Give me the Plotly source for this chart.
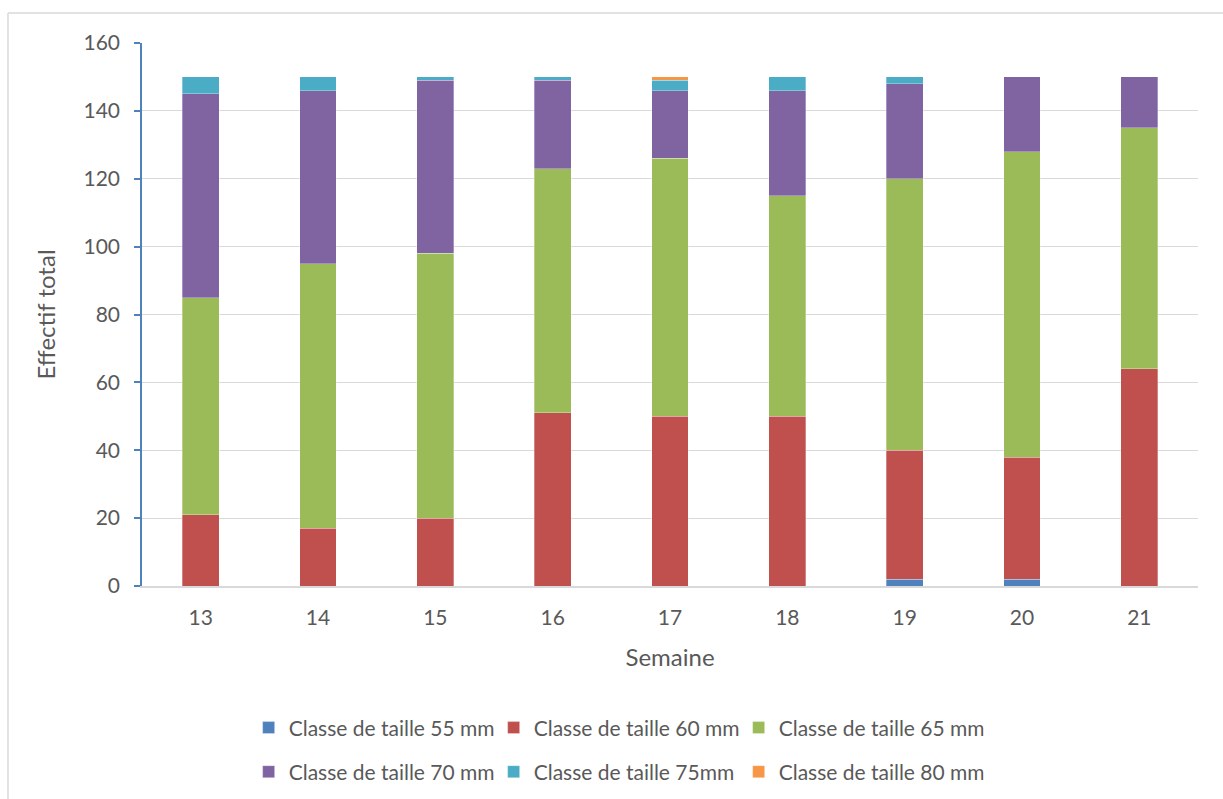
import plotly.graph_objects as go

# Weekly catch counts per size class
semaines = ["13", "14", "15", "16", "17", "18", "19", "20", "21"]
classe_55 = [0, 0, 0, 0, 0, 0, 2, 2, 0]
classe_60 = [21, 17, 20, 51, 50, 50, 38, 36, 64]
classe_65 = [64, 78, 78, 72, 76, 65, 80, 90, 71]
classe_70 = [60, 51, 51, 26, 20, 31, 28, 22, 15]
classe_75 = [5, 4, 1, 1, 3, 4, 2, 0, 0]
classe_80 = [0, 0, 0, 0, 1, 0, 0, 0, 0]

series = [
    ("Classe de taille 55 mm", classe_55, "#4F81BD", "legend"),
    ("Classe de taille 60 mm", classe_60, "#C0504D", "legend"),
    ("Classe de taille 65 mm", classe_65, "#9BBB59", "legend"),
    ("Classe de taille 70 mm", classe_70, "#8064A2", "legend2"),
    ("Classe de taille 75mm", classe_75, "#4BACC6", "legend2"),
    ("Classe de taille 80 mm", classe_80, "#F79646", "legend2"),
]

FONT = "Lato, 'Open Sans', sans-serif"
GREY = "#595959"

fig = go.Figure()
for name, vals, color, lg in series:
    fig.add_trace(go.Bar(
        x=semaines, y=vals, name=name, legend=lg,
        marker=dict(color=color, line=dict(width=0.6, color="rgba(255,255,255,0.5)")),
    ))

legend_common = dict(
    orientation="h", xanchor="center", x=0.449, yanchor="middle", yref="container",
    font=dict(family=FONT, size=21, color=GREY),
    entrywidth=200, entrywidthmode="pixels",
    itemwidth=30, bgcolor="rgba(0,0,0,0)", traceorder="normal",
)

fig.update_layout(
    width=1223, height=799,
    margin=dict(l=142, r=25, t=43, b=213),
    paper_bgcolor="white", plot_bgcolor="white",
    barmode="stack", bargap=0.685,
    font=dict(family=FONT, size=21, color=GREY),
    legend=dict(y=0.0889, **legend_common),
    legend2=dict(y=0.0338, **legend_common),
    xaxis=dict(
        type="category",
        title=dict(text="Semaine", font=dict(size=24, color=GREY), standoff=21),
        showline=True, linecolor="#D9D9D9", linewidth=1.5,
        ticks="", tickfont=dict(size=21, color=GREY), ticklabelstandoff=12,
        showgrid=False,
    ),
    yaxis=dict(
        range=[0, 160], dtick=20,
        title=dict(text="Effectif total", font=dict(size=24, color=GREY), standoff=21),
        showline=True, linecolor="#4F81BD", linewidth=1.5,
        ticks="outside", ticklen=6, tickcolor="#4F81BD", tickwidth=1.5,
        tickfont=dict(size=21, color=GREY), ticklabelstandoff=10,
        showgrid=True, gridcolor="#D9D9D9", gridwidth=1.3,
        zeroline=False,
    ),
    shapes=[
        dict(type="line", xref="paper", yref="paper",
             x0=-0.1269, x1=1.03, y0=1.0552, y1=1.0552,
             line=dict(color="#D9D9D9", width=1.5)),
        dict(type="line", xref="paper", yref="paper",
             x0=-0.1269, x1=-0.1269, y0=1.0552, y1=-0.4,
             line=dict(color="#D9D9D9", width=1.5)),
    ],
)

fig.write_html("out.html")
